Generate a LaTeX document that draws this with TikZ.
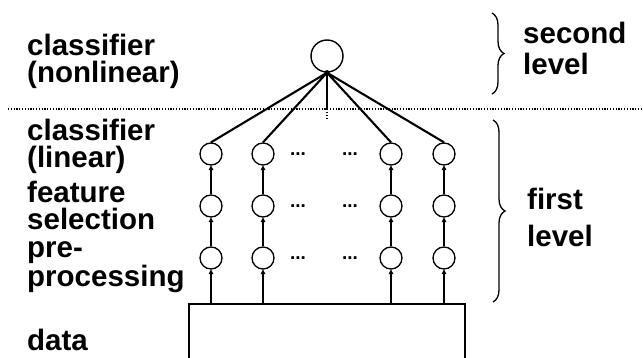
\documentclass[tikz,border=0pt]{standalone}
\usepackage{fontspec}
\setmainfont{Liberation Sans}
\usetikzlibrary{arrows.meta,decorations.pathreplacing}
\begin{document}
\begin{tikzpicture}[x=1pt,y=-1pt,
  unit/.style={circle,draw,line width=1.3pt,minimum size=22pt,inner sep=0pt},
  topunit/.style={circle,draw,line width=1.4pt,minimum size=32pt,inner sep=0pt},
  conn/.style={line width=2.1pt},
  arr/.style={line width=2.1pt,-{Triangle[length=5pt,width=4.5pt]},shorten >=-0.5pt},
  lbl/.style={font=\fontsize{29.5}{27}\selectfont\bfseries,anchor=base west,inner sep=0pt},
  dotsl/.style={font=\fontsize{19}{19}\selectfont\bfseries,inner sep=0pt},
  bracel/.style={decorate,decoration={brace,amplitude=12pt},line width=1.3pt},
  sep/.style={line width=1.3pt,dash pattern=on 1.2pt off 1.6pt}
]
\useasboundingbox (0,0) rectangle (643,358);
\clip (0,0) rectangle (643,358);

% left labels
\node[lbl] (l1a) at (27,56) {classifier};
\node[lbl] (l1b) at (27,83) {(nonlinear)};
\node[lbl] (l2a) at (27,141) {classifier};
\node[lbl] (l2b) at (27,168) {(linear)};
\node[lbl] (l3a) at (27,203) {feature};
\node[lbl] (l3b) at (27,230) {selection};
\node[lbl] (l4a) at (27,258) {pre-};
\node[lbl] (l4b) at (27,287) {processing};
\node[lbl] (l5) at (27,350) {data};

% right labels
\node[lbl] (r1a) at (523,44) {second};
\node[lbl] (r1b) at (523,75) {level};
\node[lbl] (r2a) at (527,210) {first};
\node[lbl] (r2b) at (527,247) {level};

% braces
\coordinate (b1t) at (492,13);
\coordinate (b1b) at (492,94);
\coordinate (b2t) at (493,120);
\coordinate (b2b) at (493,302);
\draw[bracel] (b1t) -- (b1b);
\draw[bracel] (b2t) -- (b2b);

% separator
\coordinate (sl) at (8,109);
\coordinate (sr) at (643,109);
\draw[sep] (sl) -- (sr);

% top unit
\node[topunit] (top) at (327,56) {};

% lower units
\foreach \c/\x in {1/211,2/263,3/391,4/444}{
  \node[unit] (a\c) at (\x,154) {};
  \node[unit] (b\c) at (\x,206) {};
  \node[unit] (d\c) at (\x,258) {};
}

% dots
\foreach \r/\y in {1/154,2/206,3/258}{
  \node[dotsl] (p\r) at (298,\y) {...};
  \node[dotsl] (q\r) at (350,\y) {...};
}

% data box
\node[draw,line width=2pt,minimum width=276pt,minimum height=80pt,inner sep=0pt] (box) at (327,344) {};

% connections to top
\foreach \c in {1,2,3,4}{
  \draw[conn] (top.south) -- (a\c.north);
}
\coordinate (vm) at (327,109);
\coordinate (ve) at (327,121);
\draw[conn] (top.south) -- (vm);
\draw[line width=1.8pt,dash pattern=on 1.5pt off 1.5pt] (vm) -- (ve);
\fill (top.south) circle (2.6pt);

% arrows
\foreach \c in {1,2,3,4}{
  \draw[arr] (box.north -| d\c.south) -- (d\c.south);
  \draw[arr] (d\c.north) -- (b\c.south);
  \draw[arr] (b\c.north) -- (a\c.south);
}
\end{tikzpicture}
\end{document}
